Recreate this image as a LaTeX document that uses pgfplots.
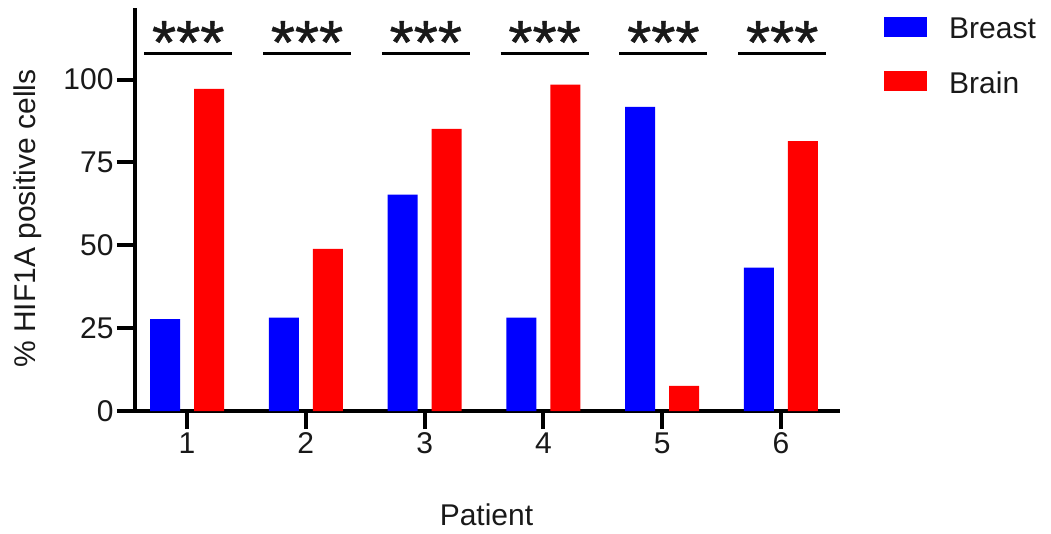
\documentclass[border=0pt]{standalone}
\usepackage{pgfplots}
\pgfplotsset{compat=1.18}
\usepackage{fontspec}
\setmainfont{Liberation Sans}
\newfontfamily\starfont[FakeBold=0.8]{Liberation Sans}
\definecolor{cblue}{RGB}{0,0,255}
\definecolor{cred}{RGB}{255,0,0}
\definecolor{ctext}{RGB}{25,25,25}
\begin{document}
\begin{tikzpicture}
\useasboundingbox (-135pt,-122pt) rectangle (916pt,411pt);
\begin{axis}[
  at={(0pt,0pt)}, anchor=south west,
  scale only axis, width=703pt, height=401pt,
  xmin=0.562, xmax=6.48, ymin=0, ymax=121,
  axis lines*=left,
  axis line style={line width=4pt, line cap=rect},
  every tick/.style={line width=4pt, black},
  tick align=outside, major tick length=18pt,
  xtick={1,2,3,4,5,6}, ytick={0,25,50,75,100},
  tick label style={font=\fontsize{30}{36}\selectfont, text=ctext},
  /pgf/number format/assume math mode=true,
  xlabel={Patient},
  ylabel={\% HIF1A positive cells},
  label style={font=\fontsize{30}{36}\selectfont, text=ctext},
  xlabel style={at={(axis description cs:0.5,-0.259)}, anchor=center},
  ylabel style={at={(axis description cs:-0.152,0.48)}, anchor=center},
  clip=false,
  legend style={draw=none, fill=none, at={(axis description cs:1,1)}, anchor=north west,
    xshift=43pt, yshift=-4pt, font=\fontsize{30}{36}\selectfont, text=ctext, row sep=27pt,
    legend cell align=left},
]
\addplot[ybar, bar width=30pt, bar shift=-22pt, fill=cblue, draw=none,
  legend image code/.code={\fill[cblue] (0pt,-8pt) rectangle (43pt,12pt); \path (63pt,0pt);}]
  coordinates {(1,27.7) (2,28.2) (3,65.3) (4,28.2) (5,91.8) (6,43.3)};
\addlegendentry{Breast}
\addplot[ybar, bar width=30pt, bar shift=22pt, fill=cred, draw=none,
  legend image code/.code={\fill[cred] (0pt,-8pt) rectangle (43pt,12pt); \path (63pt,0pt);}]
  coordinates {(1,97.2) (2,48.9) (3,85.1) (4,98.5) (5,7.6) (6,81.4)};
\addlegendentry{Brain}
\pgfplotsinvokeforeach{1,2,3,4,5,6}{
  \draw[line width=3.5pt] (axis cs:#1-0.36,107.9) -- (axis cs:#1+0.38,107.9);
  \node[anchor=base, inner sep=0pt, text=ctext, font=\starfont\fontsize{62}{66}\selectfont] at (axis cs:#1+0.01,104.8) {***};
}
\end{axis}
\end{tikzpicture}
\end{document}
